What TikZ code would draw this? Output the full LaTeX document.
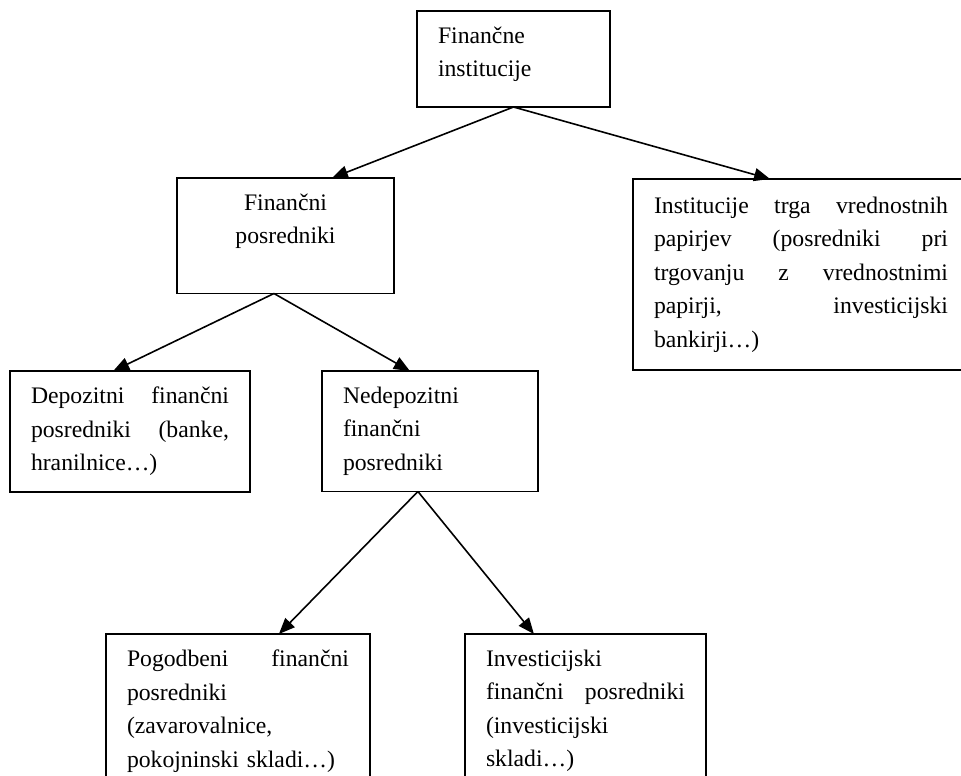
\documentclass[tikz,border=0pt]{standalone}
\usepackage{fontspec}
\setmainfont{Liberation Serif}
\usepackage{tikz}
\usetikzlibrary{calc,arrows.meta}

\begin{document}
\begin{tikzpicture}[
    x=1pt, y=-1pt,
    every node/.style={font={\fontsize{23.7}{33.5}\selectfont}},
    box/.style={rectangle, draw, line width=1.8pt, anchor=north west, outer sep=0pt,
                inner xsep=21pt, inner ysep=16pt, align=left},
    link/.style={-{Triangle[length=16pt, width=13pt]}, line width=1.6pt}
]
\useasboundingbox (0,0) rectangle (961,776);
\clip (0,0) rectangle (961,776);

% Top
\node[box, text width=151pt, minimum height=96pt] (inst) at (417,11) {Finančne\\institucije\rule[-14pt]{0pt}{14pt}};

% Second level
\node[box, text width=175pt, align=center] (posr) at (177,178) {Finančni\\posredniki\\\mbox{}};
\node[box, text width=294pt, minimum height=191pt] (trg) at (633,179)
    {Institucije\hfill trga\hfill vrednostnih\\papirjev\hfill (posredniki\hfill pri\\trgovanju\hfill z\hfill vrednostnimi\\papirji,\hfill investicijski\\bankirji…)};

% Third level
\node[box, text width=198pt] (depo) at (10,371) {Depozitni\hfill finančni\\posredniki\hfill (banke,\\hranilnice…)};
\node[box, text width=174pt] (nedepo) at (322,371) {Nedepozitni\\finančni\\posredniki};

% Bottom
\node[box, text width=222pt] (pogod) at (106,634) {Pogodbeni\hfill finančni\\posredniki\\(zavarovalnice,\\pokojninski skladi…)};
\node[box, text width=199pt] (invest) at (465,634) {Investicijski\\finančni\hfill posredniki\\(investicijski\\skladi…)};

% Arrows
\draw[link] (inst.south) -- ($(posr.north west)!0.714!(posr.north east)$);
\draw[link] (inst.south) -- ($(trg.north west)!0.408!(trg.north east)$);
\draw[link] ($(posr.south west)!0.447!(posr.south east)$) -- ($(depo.north west)!0.43!(depo.north east)$);
\draw[link] ($(posr.south west)!0.447!(posr.south east)$) -- ($(nedepo.north west)!0.407!(nedepo.north east)$);
\draw[link] ($(nedepo.south west)!0.444!(nedepo.south east)$) -- ($(pogod.north west)!0.655!(pogod.north east)$);
\draw[link] ($(nedepo.south west)!0.444!(nedepo.south east)$) -- ($(invest.north west)!0.286!(invest.north east)$);

\end{tikzpicture}
\end{document}
